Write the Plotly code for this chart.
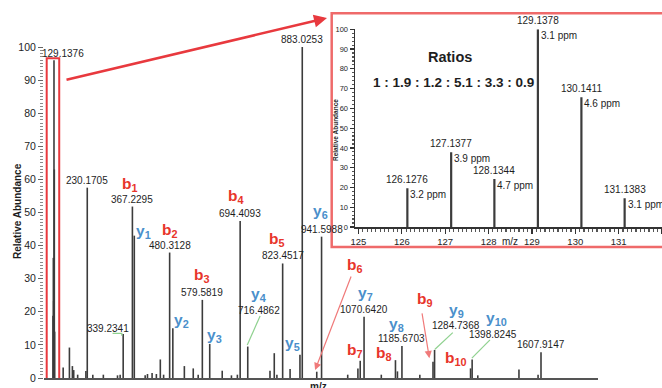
import plotly.graph_objects as go

# ---------------- data ----------------
# main MS/MS spectrum (m/z, relative abundance)
main_mz = [126.1276, 127.1377, 128.1344, 129.1376, 130.1411, 131.1383,
           157, 176, 185, 189, 201, 226, 230.1705, 247, 279, 322, 330, 339.2341,
           367.2295, 373, 406, 413, 427, 440, 452, 462, 480.3128, 490,
           525, 552, 567, 579.5819, 602, 640, 668, 686, 694.4093, 717.4862,
           785, 798, 806, 823.4517, 846, 876, 883.0253, 927, 941.5988,
           1021, 1052, 1059, 1070.6420, 1123, 1166, 1172, 1185.6703, 1240,
           1280, 1284.7368, 1394, 1398.8245, 1416, 1541, 1599, 1607.9147]
main_ab = [18.8, 36.3, 23.3, 96.0, 63.0, 14.0,
           3.2, 9.2, 3.6, 2.4, 1.0, 2.1, 57.5, 1.0, 1.0, 0.8, 1.0, 13.3,
           51.8, 43.0, 0.8, 1.2, 1.5, 1.2, 5.6, 1.0, 37.9, 15.0,
           3.6, 2.9, 1.0, 23.6, 10.3, 2.2, 0.8, 1.0, 47.4, 9.5,
           2.2, 7.5, 1.0, 34.6, 2.7, 7.0, 100.0, 1.9, 42.7,
           1.0, 2.9, 5.2, 18.5, 1.0, 5.4, 2.0, 9.7, 1.0,
           4.9, 8.5, 2.9, 5.6, 0.8, 2.6, 1.0, 7.8]

# labelled main peaks (label text, m/z, abundance)
peak_labels = ["230.1705", "367.2295", "480.3128", "579.5819", "694.4093",
               "823.4517", "883.0253", "941.5988", "1070.6420", "1185.6703", "1607.9147"]
peak_label_mz = [230.1705, 367.2295, 480.3128, 579.5819, 694.4093,
                 823.4517, 883.0253, 941.5988, 1070.6420, 1185.6703, 1607.9147]
peak_label_ab = [57.5, 51.8, 37.9, 23.6, 47.4, 34.6, 100.0, 42.7, 18.5, 9.7, 7.8]

# offset value labels (text, x, y)
off_labels = ["129.1376", "339.2341", "716.4862", "1284.7368", "1398.8245"]
off_label_x = [157, 294, 752, 1350, 1463]
off_label_y = [97.9, 15.0, 20.5, 16.0, 13.2]

# fragment ion labels
b_ions = ["1", "2", "3", "4", "5", "6", "7", "8", "9", "10"]
b_x = [360, 481, 578, 682, 807, 1043, 1043, 1132, 1256, 1350]
b_y = [58.6, 44.7, 31.1, 54.8, 41.9, 34.1, 8.2, 7.5, 23.6, 6.0]
y_ions = ["1", "2", "3", "4", "5", "6", "7", "8", "9", "10"]
y_x = [400, 515, 618, 750, 854, 938, 1074, 1168, 1352, 1474]
y_y = [44.2, 17.5, 12.7, 25.1, 10.3, 50.2, 25.6, 16.3, 20.5, 18.0]

# inset: TMT reporter ions
rep_mz = [126.1276, 127.1377, 128.1344, 129.1378, 130.1411, 131.1383]
rep_ab = [19.6, 37.8, 24.3, 100.0, 65.6, 14.5]
rep_ppm = ["3.2 ppm", "3.9 ppm", "4.7 ppm", "3.1 ppm", "4.6 ppm", "3.1 ppm"]
ratios_text = "1 : 1.9 : 1.2 : 5.1 : 3.3 : 0.9"

FONT = "Liberation Sans, Arial, sans-serif"
RED = "#e8352b"
BLUE = "#4a8fcb"
PEAK = "#3c3c3c"
TXT = "#1e1e1e"


def sticks(xs, ys):
    X, Y = [], []
    for a, b in zip(xs, ys):
        X += [a, a, None]
        Y += [0, b, None]
    return X, Y


fig = go.Figure()
mx, my = sticks(main_mz, main_ab)
fig.add_trace(go.Scatter(x=mx, y=my, mode="lines", line=dict(color=PEAK, width=1.6),
                         hoverinfo="skip", showlegend=False))
ix, iy = sticks(rep_mz, rep_ab)
fig.add_trace(go.Scatter(x=ix, y=iy, mode="lines", line=dict(color=PEAK, width=2.2),
                         hoverinfo="skip", showlegend=False, xaxis="x2", yaxis="y2"))

ann = []
for t, x, y in zip(peak_labels, peak_label_mz, peak_label_ab):
    ann.append(dict(x=x, y=y, xref="x", yref="y", text=t, showarrow=False,
                    xanchor="center", yanchor="bottom", yshift=0,
                    font=dict(family=FONT, size=10, color=TXT)))
for t, x, y in zip(off_labels, off_label_x, off_label_y):
    ann.append(dict(x=x, y=y, xref="x", yref="y", text=t, showarrow=False,
                    xanchor="center", yanchor="middle",
                    font=dict(family=FONT, size=10, color=TXT)))
for s, x, y in zip(b_ions, b_x, b_y):
    ann.append(dict(x=x, y=y, xref="x", yref="y", text="<b>b<sub>%s</sub></b>" % s,
                    showarrow=False, xanchor="center", yanchor="middle",
                    font=dict(family=FONT, size=15.5, color=RED)))
for s, x, y in zip(y_ions, y_x, y_y):
    ann.append(dict(x=x, y=y, xref="x", yref="y", text="<b>y<sub>%s</sub></b>" % s,
                    showarrow=False, xanchor="center", yanchor="middle",
                    font=dict(family=FONT, size=15.5, color=BLUE)))

# inset labels
for t, p, x, y in zip([f"{m:.4f}" for m in rep_mz], rep_ppm, rep_mz, rep_ab):
    ann.append(dict(x=x, y=y, xref="x2", yref="y2", text=t, showarrow=False,
                    xanchor="center", yanchor="bottom", yshift=1,
                    font=dict(family=FONT, size=10, color=TXT)))
    ann.append(dict(x=x, y=y, xref="x2", yref="y2", text=p, showarrow=False,
                    xanchor="left", yanchor="top", xshift=1, yshift=1,
                    font=dict(family=FONT, size=10, color=TXT)))
ann.append(dict(x=127.1, y=86, xref="x2", yref="y2", text="<b>Ratios</b>", showarrow=False,
                xanchor="center", yanchor="middle", font=dict(family=FONT, size=14.5, color=TXT)))
ann.append(dict(x=127.2, y=73, xref="x2", yref="y2", text="<b>%s</b>" % ratios_text,
                showarrow=False, xanchor="center", yanchor="middle",
                font=dict(family=FONT, size=13.5, color=TXT)))
ann.append(dict(x=128.5, y=0, xref="x2", yref="y2", text="m/z", showarrow=False,
                xanchor="center", yanchor="top", yshift=-7,
                font=dict(family=FONT, size=10, color=TXT)))
ann.append(dict(x=336 / 662, y=1 - 130 / 388, xref="paper", yref="paper",
                text="<b>Relative Abundance</b>", textangle=-90, showarrow=False,
                xanchor="center", yanchor="middle",
                font=dict(family=FONT, size=6.5, color=TXT)))

# main axis titles
ann.append(dict(x=18 / 662, y=1 - 211 / 388, xref="paper", yref="paper",
                text="<b>Relative Abundance</b>", textangle=-90, showarrow=False,
                xanchor="center", yanchor="middle",
                font=dict(family=FONT, size=10, color=TXT)))
ann.append(dict(x=931, y=0, xref="x", yref="y", text="<b>m/z</b>", showarrow=False,
                xanchor="center", yanchor="top", yshift=-1,
                font=dict(family=FONT, size=10, color=TXT)))

# arrows
ann.append(dict(x=922, y=2.4, xref="x", yref="y", ax=1033, ay=31.1, axref="x", ayref="y",
                text="", showarrow=True, arrowhead=2, arrowsize=1.2, arrowwidth=1.2,
                arrowcolor="#f07a7a"))
ann.append(dict(x=1269, y=6.0, xref="x", yref="y", ax=1246, ay=20.0, axref="x", ayref="y",
                text="", showarrow=True, arrowhead=2, arrowsize=1.2, arrowwidth=1.2,
                arrowcolor="#f07a7a"))
ann.append(dict(x=327 / 662, y=1 - 18 / 388, xref="paper", yref="paper", ax=-262, ay=62,
                text="", showarrow=True, arrowhead=2, arrowsize=1, arrowwidth=2.6,
                arrowcolor="#e8393e"))

GREEN = "#8fd18f"
shapes = [
    dict(type="rect", xref="paper", yref="paper", x0=331.7 / 662, x1=1.02,
         y0=1 - 247 / 388, y1=1 - 13.3 / 388, line=dict(color="#ef6a6a", width=2.5)),
    dict(type="rect", xref="x", yref="y", x0=107, x1=145, y0=-1.3, y1=96.6,
         line=dict(color="#e8393e", width=2)),
    dict(type="path", xref="x", yref="y", path="M307,13.5 L335,13.5 L335,12.8",
         line=dict(color=GREEN, width=1.2)),
    dict(type="line", xref="x", yref="y", x0=755, y0=18.7, x1=716, y1=10.0,
         line=dict(color=GREEN, width=1.2)),
    dict(type="line", xref="x", yref="y", x0=1340, y0=13.7, x1=1286, y1=8.7,
         line=dict(color=GREEN, width=1.2)),
    dict(type="line", xref="x", yref="y", x0=1453, y0=11.5, x1=1398, y1=6.0,
         line=dict(color=GREEN, width=1.2)),
]

fig.update_layout(
    width=662, height=388, margin=dict(l=0, r=0, t=0, b=0),
    paper_bgcolor="white", plot_bgcolor="rgba(0,0,0,0)",
    showlegend=False, annotations=ann, shapes=shapes,
    xaxis=dict(domain=[44 / 662, 598 / 662], range=[98.8, 1781], showticklabels=False,
               ticks="", showgrid=False, zeroline=False, showline=True,
               linecolor="#555", linewidth=1.5, automargin=False),
    yaxis=dict(domain=[1 - 378 / 388, 1 - 47 / 388], range=[0, 100], dtick=10,
               ticks="outside", ticklen=5, tickcolor="#666666", tickwidth=1,
               minor=dict(dtick=1, ticks="outside", ticklen=3, tickcolor="#8a8a8a", tickwidth=1),
               showgrid=False, zeroline=False, showline=False,
               tickfont=dict(family=FONT, size=10.5, color=TXT), automargin=False),
    xaxis2=dict(domain=[355 / 662, 1.0], range=[124.92, 132.0], anchor="y2", dtick=1,
                ticks="outside", ticklen=5, tickcolor="#333333", tickwidth=1.2,
                minor=dict(dtick=0.1, ticks="outside", ticklen=3, tickcolor="#555555"),
                showgrid=False, zeroline=False, showline=True, linecolor="#333", linewidth=1.5,
                tickfont=dict(family=FONT, size=9.5, color=TXT), automargin=False),
    yaxis2=dict(domain=[1 - 227 / 388, 1 - 29.3 / 388], range=[0, 100], anchor="x2", dtick=10,
                ticks="outside", ticklen=4, tickcolor="#333333", tickwidth=1.2,
                minor=dict(dtick=2, ticks="outside", ticklen=2, tickcolor="#555555"),
                showgrid=False, zeroline=False, showline=True, linecolor="#333", linewidth=1.5,
                tickfont=dict(family=FONT, size=7.5, color=TXT), automargin=False),
)

fig.write_html("out.html", config={"displayModeBar": False, "staticPlot": True},
               post_script="document.body.style.margin='0px';document.body.style.overflow='hidden';")
